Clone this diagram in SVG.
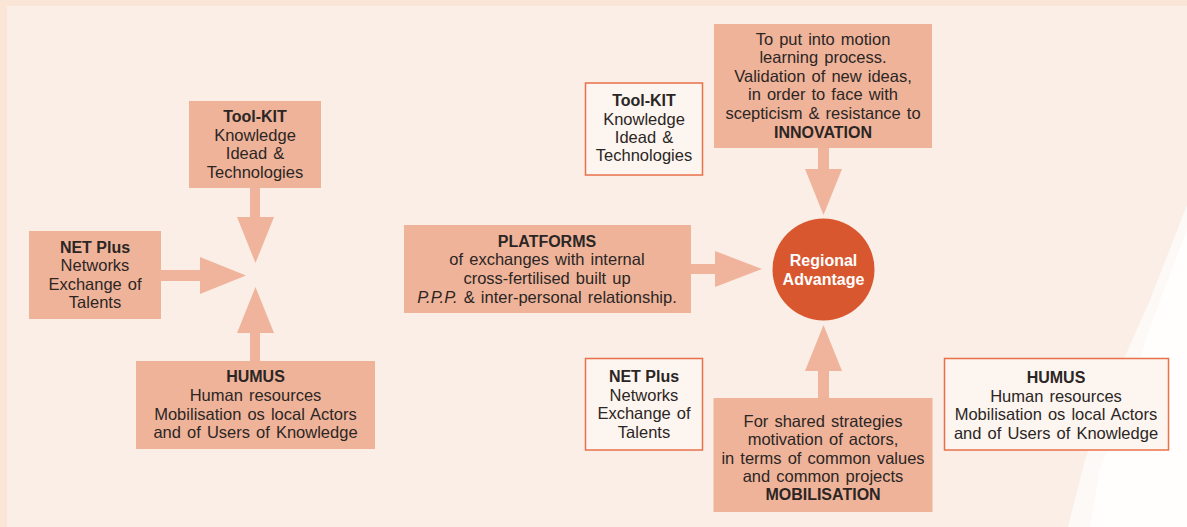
<svg xmlns="http://www.w3.org/2000/svg" width="1187" height="527" viewBox="0 0 1187 527">
<style>
.fill{fill:#efb39a}
.out{fill:#fdf5f0;stroke:#e8704a;stroke-width:1.5}
.arr{fill:#f0b49c}
text{font-family:"Liberation Sans",Arial,sans-serif;font-size:16.5px;word-spacing:1.5px;fill:#2b2624;text-anchor:middle}
.b{font-weight:bold;font-size:16px;word-spacing:0}
.w{fill:#ffffff;font-weight:bold;font-size:16px;word-spacing:0}
</style>
<rect x="0" y="0" width="1187" height="527" fill="#fae5d7"/>
<rect x="7" y="6" width="1180" height="521" fill="#fbeee6"/>
<polygon points="1187,205 1150,300 1110,390 1085,460 1068,527 1187,527" fill="#fdf9f6"/>
<polygon points="1187,230 1160,300 1125,400 1100,470 1090,527 1187,527" fill="#ffffff" opacity="0.8"/>

<g id="connectors">
<polygon class="arr" points="250,188 260,188 260,217 274,217 255.5,263 237,217 250,217"/>
<polygon class="arr" points="161,270 200,270 200,257 246,275.5 200,294 200,281 161,281"/>
<polygon class="arr" points="250,361 250,333 237,333 255.5,287 274,333 260,333 260,361"/>
<polygon class="arr" points="818,148 829,148 829,169 842,169 823.5,215 805,169 818,169"/>
<polygon class="arr" points="691,264 715,264 715,251 762,269 715,287 715,274 691,274"/>
<polygon class="arr" points="818,398 818,371 805,371 823.5,325 842,371 829,371 829,398"/>
</g>

<g id="toolkit-left">
<rect class="fill" x="189" y="101" width="132" height="87"/>
<text x="255" y="121.5" class="b">Tool-KIT</text>
<text x="255" y="140.5">Knowledge</text>
<text x="255" y="159">Idead &amp;</text>
<text x="255" y="177.5">Technologies</text>
</g>

<g id="netplus-left">
<rect class="fill" x="29" y="231" width="132" height="88"/>
<text x="95" y="252.5" class="b">NET Plus</text>
<text x="95" y="271">Networks</text>
<text x="95" y="289.5">Exchange of</text>
<text x="95" y="308">Talents</text>
</g>

<g id="humus-left">
<rect class="fill" x="136" y="361" width="239" height="88"/>
<text x="255.5" y="382" class="b">HUMUS</text>
<text x="255.5" y="400.5">Human resources</text>
<text x="255.5" y="419.5">Mobilisation os local Actors</text>
<text x="255.5" y="438">and of Users of Knowledge</text>
</g>

<g id="toolkit-right">
<rect class="out" x="585.5" y="83" width="117" height="92"/>
<text x="644" y="106" class="b">Tool-KIT</text>
<text x="644" y="124.5">Knowledge</text>
<text x="644" y="143">Idead &amp;</text>
<text x="644" y="161">Technologies</text>
</g>

<g id="innovation">
<rect class="fill" x="714" y="24" width="218" height="124"/>
<text x="823" y="45">To put into motion</text>
<text x="823" y="63">learning process.</text>
<text x="823" y="81.5">Validation of new ideas,</text>
<text x="823" y="100">in order to face with</text>
<text x="823" y="118.5">scepticism &amp; resistance to</text>
<text x="823" y="137.5" class="b">INNOVATION</text>
</g>

<g id="platforms">
<rect class="fill" x="404" y="225" width="287" height="88"/>
<text x="547" y="246.5" class="b">PLATFORMS</text>
<text x="547" y="265">of exchanges with internal</text>
<text x="547" y="284">cross-fertilised built up</text>
<text x="547" y="302.5"><tspan font-style="italic">P.P.P.</tspan> &amp; inter-personal relationship.</text>
</g>

<g id="regional-advantage">
<circle cx="823.5" cy="269.5" r="51" fill="#d9572f"/>
<text x="823.5" y="266" class="w">Regional</text>
<text x="823.5" y="284.5" class="w">Advantage</text>
</g>

<g id="netplus-right">
<rect class="out" x="585.5" y="358.5" width="117" height="91.5"/>
<text x="644" y="382" class="b">NET Plus</text>
<text x="644" y="400.5">Networks</text>
<text x="644" y="419">Exchange of</text>
<text x="644" y="437.5">Talents</text>
</g>

<g id="mobilisation">
<rect class="fill" x="713.5" y="398" width="219" height="114"/>
<text x="823" y="426.5">For shared strategies</text>
<text x="823" y="445">motivation of actors,</text>
<text x="823" y="463.5">in terms of common values</text>
<text x="823" y="482">and common projects</text>
<text x="823" y="500" class="b">MOBILISATION</text>
</g>

<g id="humus-right">
<rect class="out" x="944.5" y="358.5" width="224" height="91.5"/>
<text x="1056" y="382.5" class="b">HUMUS</text>
<text x="1056" y="401.5">Human resources</text>
<text x="1056" y="420">Mobilisation os local Actors</text>
<text x="1056" y="438.5">and of Users of Knowledge</text>
</g>
</svg>
